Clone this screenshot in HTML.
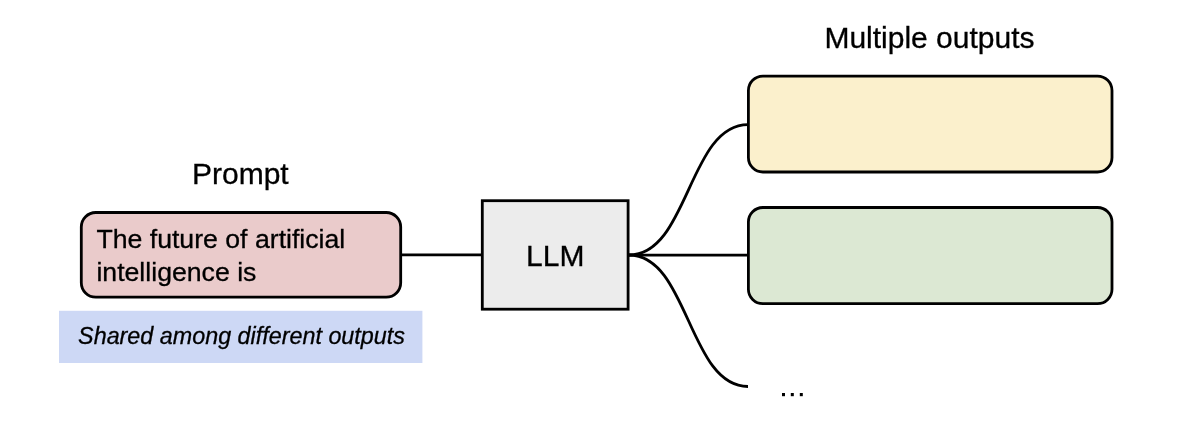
<!DOCTYPE html>
<html>
<head>
<meta charset="utf-8">
<title>Diagram</title>
<style>
  html, body { margin: 0; padding: 0; background: #ffffff; }
  body { width: 1200px; height: 426px; overflow: hidden; font-family: "Liberation Sans", sans-serif; }
  svg { display: block; will-change: transform; }
  text { font-family: "Liberation Sans", sans-serif; fill: #000000; stroke: #000000; stroke-width: 0.3px; }
</style>
</head>
<body>
<svg width="1200" height="426" viewBox="0 0 1200 426">
  <rect x="0" y="0" width="1200" height="426" fill="#ffffff"/>

  <!-- blue note -->
  <rect x="59" y="310.8" width="363.4" height="52.2" fill="#cdd8f5"/>
  <text x="78.1" y="344.1" font-size="23.33" font-style="italic">Shared among different outputs</text>

  <!-- connectors -->
  <g fill="none" stroke="#000000" stroke-width="2.8">
    <path d="M401 254.8 L482 254.8"/>
    <path d="M629 255.2 L748 255.2"/>
    <path d="M629 255 C688.5 255 688.5 124.6 748 124.6"/>
    <path d="M629 255 C688.5 255 688.5 386.5 748 386.5"/>
  </g>

  <!-- prompt box -->
  <rect x="81.3" y="212.5" width="319.4" height="84.7" rx="14.5" ry="14.5" fill="#eacbcb" stroke="#000000" stroke-width="2.8"/>
  <text x="96.4" y="248.1" font-size="26.67">The future of artificial</text>
  <text x="96.4" y="280.5" font-size="26.67">intelligence is</text>
  <text x="192" y="184" font-size="30">Prompt</text>

  <!-- LLM box -->
  <rect x="482.3" y="200.7" width="145.8" height="108.5" fill="#ececec" stroke="#000000" stroke-width="2.8"/>
  <text x="555.2" y="265.5" font-size="30" text-anchor="middle">LLM</text>

  <!-- outputs -->
  <text x="824.4" y="47.6" font-size="30">Multiple outputs</text>
  <rect x="748.4" y="76.1" width="363.6" height="95.9" rx="14.5" ry="14.5" fill="#fbf0cc" stroke="#000000" stroke-width="2.8"/>
  <rect x="748.4" y="207.5" width="363.6" height="96.2" rx="14.5" ry="14.5" fill="#dce8d3" stroke="#000000" stroke-width="2.8"/>

  <!-- ellipsis -->
  <g fill="#000000">
    <rect x="782" y="393" width="3" height="3.2"/>
    <rect x="790.8" y="393" width="3" height="3.2"/>
    <rect x="799.8" y="393" width="3" height="3.2"/>
  </g>
</svg>
</body>
</html>
